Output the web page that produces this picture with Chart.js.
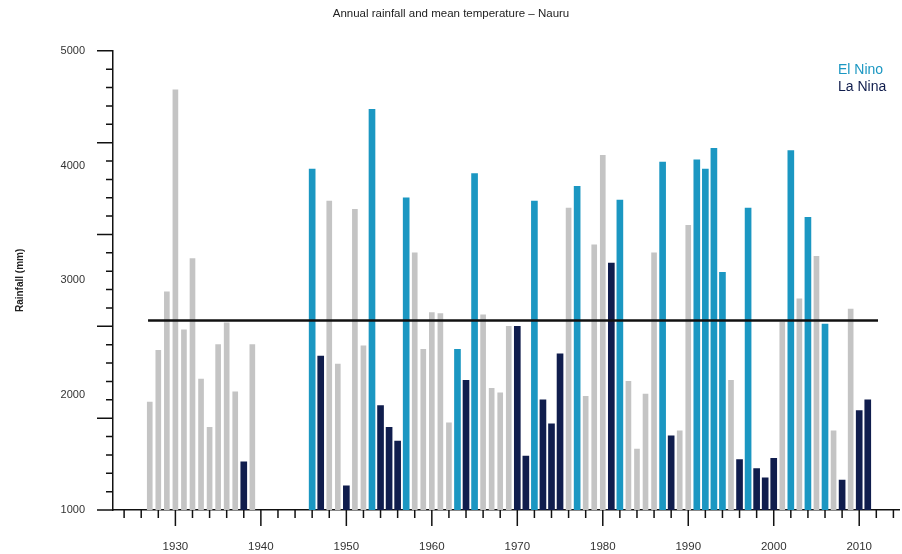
<!DOCTYPE html>
<html>
<head>
<meta charset="utf-8">
<title>Annual rainfall - Nauru</title>
<script src="https://cdn.jsdelivr.net/npm/chart.js@4.4.0/dist/chart.umd.min.js"></script>
<style>
  html, body { margin: 0; padding: 0; background: #fff; }
  #wrap { width: 902px; height: 554px; }
</style>
</head>
<body>
<div id="wrap"><canvas id="rainChart"></canvas></div>
<script>
// rainfall per year (mm)
let years = [1927, 1928, 1929, 1930, 1931, 1932, 1933, 1934, 1935, 1936, 1937, 1938, 1939,
    1946, 1947, 1948, 1949, 1950, 1951, 1952, 1953, 1954, 1955, 1956, 1957, 1958, 1959,
    1960, 1961, 1962, 1963, 1964, 1965, 1966, 1967, 1968, 1969,
    1970, 1971, 1972, 1973, 1974, 1975, 1976, 1977, 1978, 1979,
    1980, 1981, 1982, 1983, 1984, 1985, 1986, 1987, 1988, 1989,
    1990, 1991, 1992, 1993, 1994, 1995, 1996, 1997, 1998, 1999,
    2000, 2001, 2002, 2003, 2004, 2005, 2006, 2007, 2008, 2009,
    2010, 2011];
let rainfall = [1940, 2390, 2900, 4660, 2570, 3190, 2140, 1720, 2440, 2630, 2030, 1420, 2440,
    3970, 2340, 3690, 2270, 1210, 3620, 2430, 4490, 1910, 1720, 1600, 3720, 3240, 2400,
    2720, 2710, 1760, 2400, 2130, 3930, 2700, 2060, 2020, 2600,
    2600, 1470, 3690, 1960, 1750, 2360, 3630, 3820, 1990, 3310,
    4090, 3150, 3700, 2120, 1530, 2010, 3240, 4030, 1645, 1690,
    3480, 4050, 3970, 4150, 3070, 2130, 1440, 3630, 1360, 1280,
    1450, 2640, 4130, 2840, 3550, 3210, 2620, 1690, 1260, 2750,
    1865, 1960];
// N = neutral, E = El Nino, L = La Nina
let phase = ['N', 'N', 'N', 'N', 'N', 'N', 'N', 'N', 'N', 'N', 'N', 'L', 'N',
    'E', 'L', 'N', 'N', 'L', 'N', 'N', 'E', 'L', 'L', 'L', 'E', 'N', 'N',
    'N', 'N', 'N', 'E', 'L', 'E', 'N', 'N', 'N', 'N',
    'L', 'L', 'E', 'L', 'L', 'L', 'N', 'E', 'N', 'N',
    'N', 'L', 'E', 'N', 'N', 'N', 'N', 'E', 'L', 'N',
    'N', 'E', 'E', 'E', 'E', 'N', 'L', 'E', 'L', 'L',
    'L', 'N', 'E', 'N', 'E', 'N', 'E', 'N', 'L', 'N',
    'L', 'L'];

let meanRainfall = 2650;
let meanSpan = [1926.8, 2012.2];

let yearLabels = [1930, 1940, 1950, 1960, 1970, 1980, 1990, 2000, 2010];
let rainLabels = [1000, 2000, 3000, 4000, 5000];

const COLORS = { N: '#c4c4c4', E: '#1b97c2', L: '#101d4d' };

function pointsFor(code) {
    let pts = [];
    years.forEach((yr, i) => {
        if (phase[i] === code) pts.push({ x: yr, y: rainfall[i] });
    });
    return pts;
}

// small tick marks, every 2 years and every 160 mm like the source figure
const tickMarks = {
    id: 'tickMarks',
    afterDraw(chart) {
        const ctx = chart.ctx;
        const xs = chart.scales.x, ys = chart.scales.y;
        const area = chart.chartArea;
        ctx.save();
        ctx.strokeStyle = '#111';
        ctx.lineWidth = 1.5;
        ctx.beginPath();
        for (let yr = 1924; yr <= 2014; yr += 2) {
            let px = xs.getPixelForValue(yr);
            let len = (yr % 10 === 0) ? 16 : 8;
            ctx.moveTo(px, area.bottom);
            ctx.lineTo(px, area.bottom + len);
        }
        for (let k = 0; k <= 25; k++) {
            let v = 1000 + k * 160;
            let py = ys.getPixelForValue(v);
            let len = (k % 5 === 0) ? 16 : 7;
            ctx.moveTo(area.left, py);
            ctx.lineTo(area.left - len, py);
        }
        ctx.stroke();

        // legend, text only
        ctx.font = '14px "Liberation Sans", Arial, sans-serif';
        ctx.textBaseline = 'middle';
        ctx.textAlign = 'left';
        ctx.fillStyle = COLORS.E;
        ctx.fillText('El Nino', 838, 70);
        ctx.fillStyle = COLORS.L;
        ctx.fillText('La Nina', 838, 87);
        ctx.restore();
    }
};

function drawChart() {
    const ctx = document.getElementById('rainChart').getContext('2d');

    new Chart(ctx, {
        type: 'bar',
        data: {
            datasets: [
                {
                    type: 'line',
                    label: 'Mean',
                    data: [{ x: meanSpan[0], y: meanRainfall }, { x: meanSpan[1], y: meanRainfall }],
                    borderColor: '#111',
                    borderWidth: 2.5,
                    pointRadius: 0,
                    order: 0
                },
                { label: 'Neutral', data: pointsFor('N'), backgroundColor: COLORS.N, barThickness: 5, order: 1 },
                { label: 'El Nino', data: pointsFor('E'), backgroundColor: COLORS.E, barThickness: 6, order: 1 },
                { label: 'La Nina', data: pointsFor('L'), backgroundColor: COLORS.L, barThickness: 6, order: 1 }
            ]
        },
        options: {
            responsive: true,
            maintainAspectRatio: false,
            animation: false,
            grouped: false,
            layout: { padding: 0 },
            plugins: {
                legend: { display: false },
                tooltip: { enabled: false },
                title: {
                    display: true,
                    text: 'Annual rainfall and mean temperature \u2013 Nauru',
                    color: '#222',
                    font: { family: '"Liberation Sans", Arial, sans-serif', size: 11.5, weight: 'normal' },
                    padding: { top: 7, bottom: 30 }
                }
            },
            scales: {
                x: {
                    type: 'linear',
                    min: 1922.7,
                    max: 2014.75,
                    offset: false,
                    grid: { display: false, drawTicks: false },
                    border: { display: true, color: '#111', width: 1.5 },
                    afterBuildTicks: s => { s.ticks = yearLabels.map(v => ({ value: v })); },
                    afterFit: s => { s.height = 44; },
                    ticks: {
                        padding: 30,
                        color: '#333',
                        maxRotation: 0,
                        font: { family: '"Liberation Sans", Arial, sans-serif', size: 11.5 },
                        callback: v => String(v)
                    }
                },
                y: {
                    min: 1000,
                    max: 5000,
                    grid: { display: false, drawTicks: false },
                    border: { display: true, color: '#111', width: 1.5 },
                    afterBuildTicks: s => { s.ticks = rainLabels.map(v => ({ value: v })); },
                    afterFit: s => { s.width = 113; },
                    title: {
                        display: true,
                        text: 'Rainfall (mm)',
                        color: '#222',
                        font: { family: '"Liberation Sans", Arial, sans-serif', size: 10, weight: 'bold' },
                        padding: { top: 14, bottom: 0 }
                    },
                    ticks: {
                        padding: 28,
                        color: '#333',
                        font: { family: '"Liberation Sans", Arial, sans-serif', size: 11 },
                        callback: v => String(v)
                    }
                }
            }
        },
        plugins: [tickMarks]
    });
}

drawChart();
</script>
</body>
</html>
